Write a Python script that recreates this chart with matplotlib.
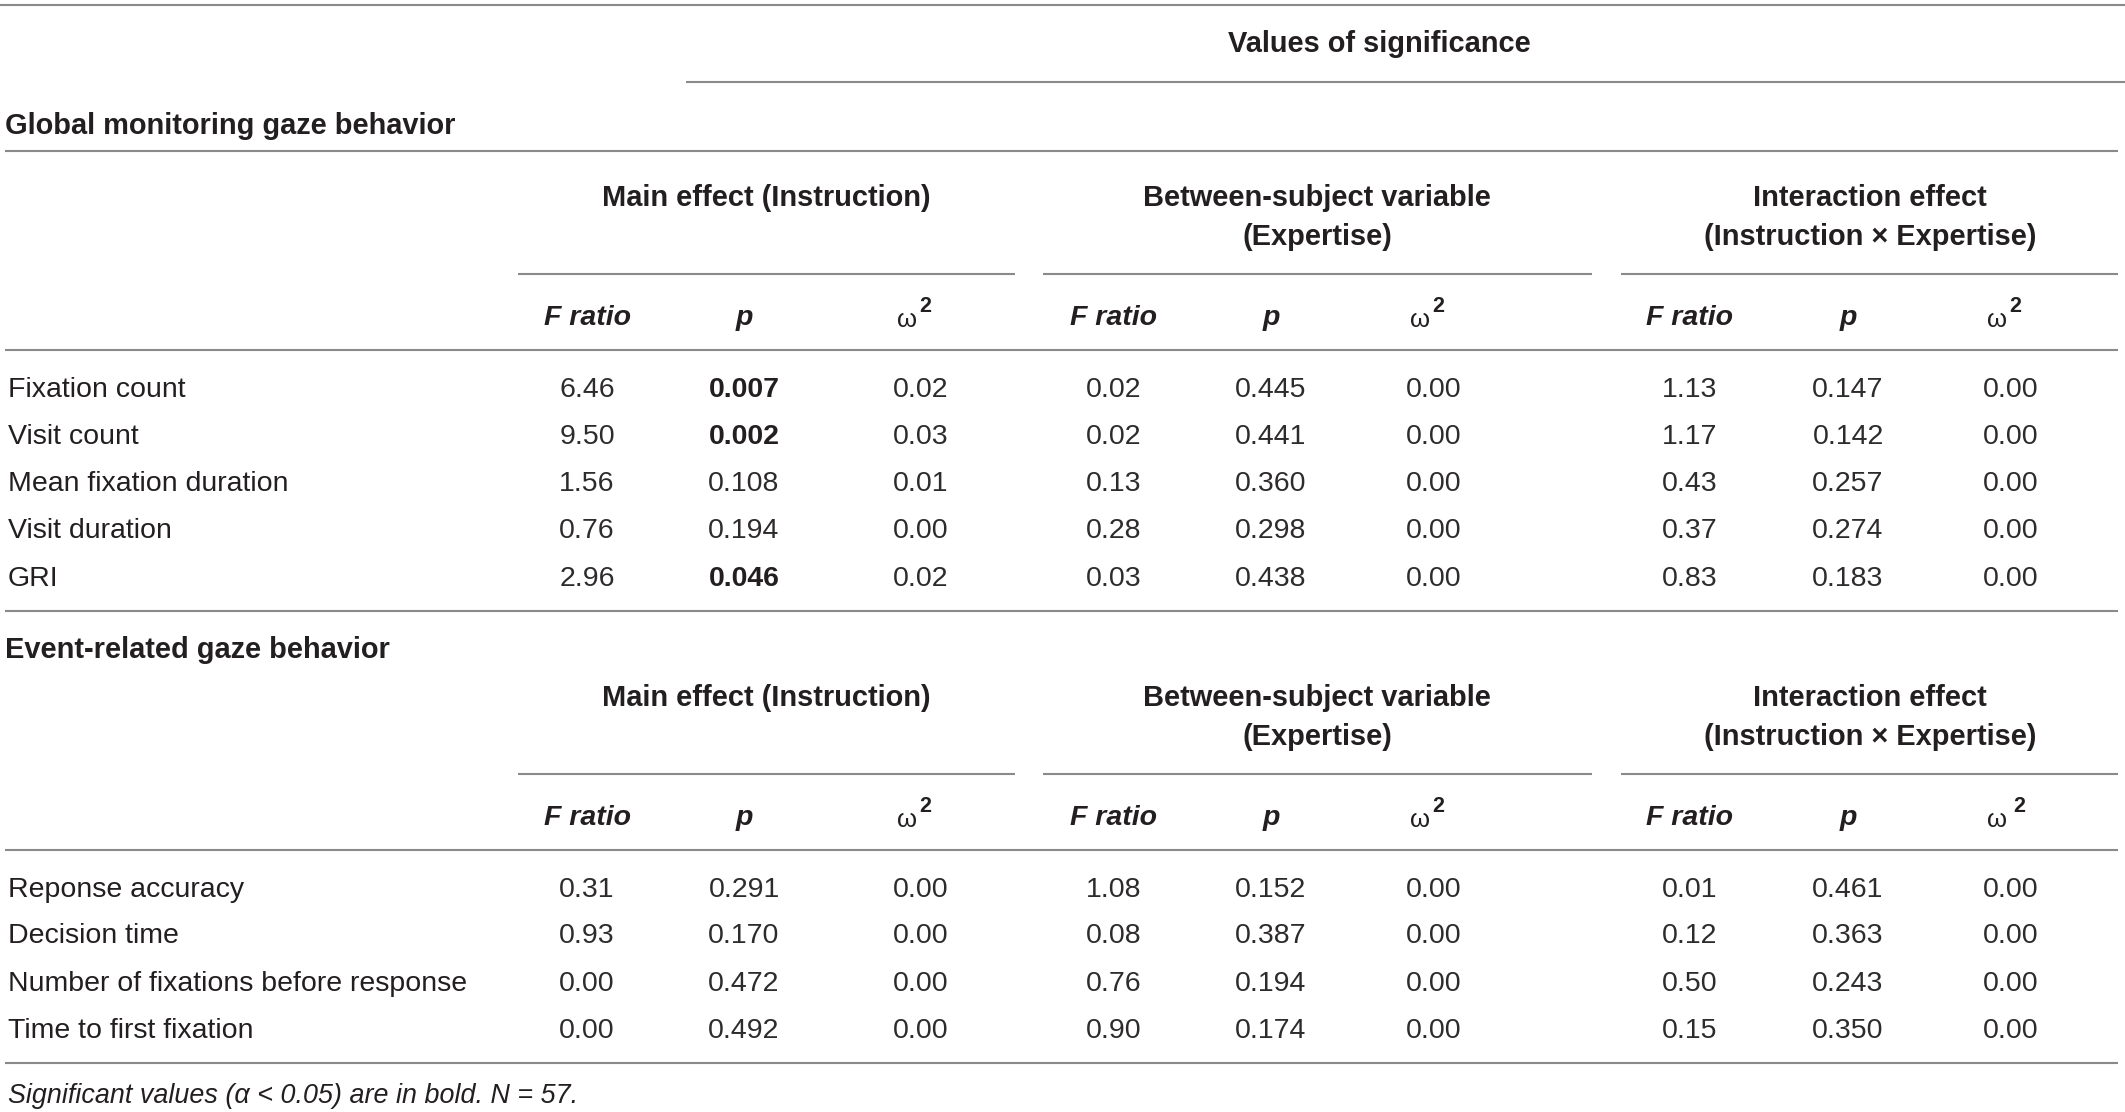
import matplotlib
matplotlib.use("Agg")
import matplotlib.pyplot as plt

# ---------------- data ----------------
title_top = "Values of significance"
sections = ["Global monitoring gaze behavior", "Event-related gaze behavior"]
effects = ["Main effect (Instruction)",
           "Between-subject variable\n(Expertise)",
           "Interaction effect\n(Instruction \u00d7 Expertise)"]

global_rows = ["Fixation count", "Visit count", "Mean fixation duration",
               "Visit duration", "GRI"]
global_main_F = ["6.46", "9.50", "1.56", "0.76", "2.96"]
global_main_p = ["0.007", "0.002", "0.108", "0.194", "0.046"]
global_main_w = ["0.02", "0.03", "0.01", "0.00", "0.02"]
global_betw_F = ["0.02", "0.02", "0.13", "0.28", "0.03"]
global_betw_p = ["0.445", "0.441", "0.360", "0.298", "0.438"]
global_betw_w = ["0.00", "0.00", "0.00", "0.00", "0.00"]
global_int_F = ["1.13", "1.17", "0.43", "0.37", "0.83"]
global_int_p = ["0.147", "0.142", "0.257", "0.274", "0.183"]
global_int_w = ["0.00", "0.00", "0.00", "0.00", "0.00"]

event_rows = ["Reponse accuracy", "Decision time",
              "Number of fixations before response", "Time to first fixation"]
event_main_F = ["0.31", "0.93", "0.00", "0.00"]
event_main_p = ["0.291", "0.170", "0.472", "0.492"]
event_main_w = ["0.00", "0.00", "0.00", "0.00"]
event_betw_F = ["1.08", "0.08", "0.76", "0.90"]
event_betw_p = ["0.152", "0.387", "0.194", "0.174"]
event_betw_w = ["0.00", "0.00", "0.00", "0.00"]
event_int_F = ["0.01", "0.12", "0.50", "0.15"]
event_int_p = ["0.461", "0.363", "0.243", "0.350"]
event_int_w = ["0.00", "0.00", "0.00", "0.00"]

footnote = "Significant values (\u03b1 < 0.05) are in bold. N = 57."
alpha_level = 0.05

# ---------------- layout ----------------
FONT = ["Liberation Sans", "DejaVu Sans"]
plt.rcParams["font.family"] = FONT
TXT = "#231f20"
VAL = "#2e2b2c"
LINE = "#8a8a8a"
FS = 20.5
FSB = 20.9
DY = 3

fig = plt.figure(figsize=(21.25, 11.12), dpi=100)
ax = fig.add_axes([0, 0, 1, 1])
ax.set_xlim(0, 2125)
ax.set_ylim(1112, 0)
ax.axis("off")

def hline(y, x0=5, x1=2118):
    ax.plot([x0, x1], [y, y], color=LINE, lw=1.5, solid_capstyle="butt")

def txt(x, y, s, **kw):
    kw.setdefault("fontsize", FS)
    kw.setdefault("color", TXT)
    kw.setdefault("va", "center")
    ax.text(x, y + DY, s, **kw)

col_x = [[587, 744, 921], [1114, 1271, 1434], [1690, 1848, 2011]]
group_span = [(518, 1015), (1043, 1592), (1621, 2118)]
group_cx = [766, 1317, 1870]

def headers(y1, y2, yline, ycol, extra_space=False):
    for i, eff in enumerate(effects):
        lines = eff.split("\n")
        for k, ln in enumerate(lines):
            txt(group_cx[i], [y1, y2][k], ln, ha="center", fontweight="bold",
                fontsize=FSB)
        hline(yline, *group_span[i])
        fx, px, wx = col_x[i]
        txt(fx, ycol, "F ratio", ha="center", fontweight="bold", style="italic")
        txt(px, ycol, "p", ha="center", fontweight="bold", style="italic")
        off = 6 if (extra_space and i == 2) else 2
        txt(wx - 4, ycol + 2, "\u03c9", ha="right", fontsize=FS - 2)
        txt(wx - 4 + off, ycol - 12, "2", ha="left", fontsize=FS - 5,
            fontweight="bold")

def rows(names, ys, cols):
    for r, (name, y) in enumerate(zip(names, ys)):
        txt(8, y, name, ha="left")
        for g in range(3):
            F, p, w = cols[g]
            bold = float(p[r]) < alpha_level
            txt(col_x[g][0], y, F[r], ha="center", color=VAL)
            txt(col_x[g][1], y, p[r], ha="center",
                color=TXT if bold else VAL,
                fontweight="bold" if bold else "normal")
            txt(col_x[g][2], y, w[r], ha="center", color=VAL)

# top part
hline(5, 0, 2125)
txt(1379, 41, title_top, ha="center", fontweight="bold", fontsize=FSB)
hline(82, 686, 2125)
txt(5, 123, sections[0], ha="left", fontweight="bold", fontsize=FSB)
hline(151)

headers(195, 234, 274, 315)
hline(350)
rows(global_rows, [387, 434, 481, 528, 576],
     [(global_main_F, global_main_p, global_main_w),
      (global_betw_F, global_betw_p, global_betw_w),
      (global_int_F, global_int_p, global_int_w)])
hline(611)

txt(5, 647, sections[1], ha="left", fontweight="bold", fontsize=FSB)
headers(695, 734, 774, 815, extra_space=True)
hline(850)
rows(event_rows, [887, 933, 981, 1028],
     [(event_main_F, event_main_p, event_main_w),
      (event_betw_F, event_betw_p, event_betw_w),
      (event_int_F, event_int_p, event_int_w)])
hline(1063)

txt(8, 1093, footnote, ha="left", fontsize=19.4, style="italic")

fig.savefig("out.png", dpi=100)
